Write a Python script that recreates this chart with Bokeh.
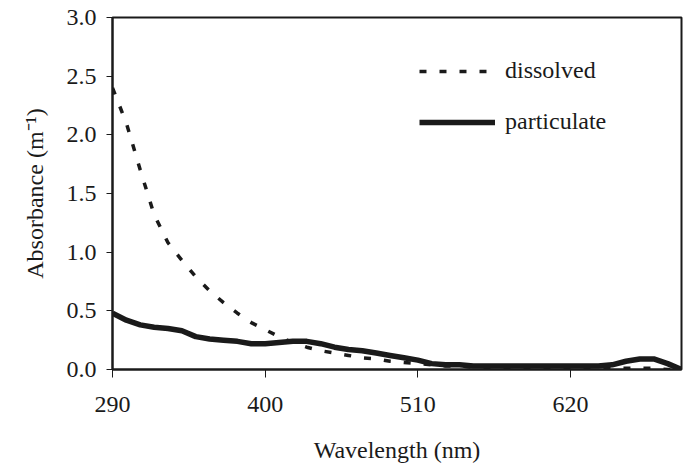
from bokeh.plotting import figure
from bokeh.models import Range1d, FixedTicker, Legend, NumeralTickFormatter
from bokeh.embed import file_html
from bokeh.resources import INLINE

wavelength = [290, 300, 310, 320, 330, 340, 350, 360, 370, 380, 390, 400, 410, 420,
              430, 440, 450, 460, 470, 480, 490, 500, 510, 520, 530, 540, 550, 560,
              570, 580, 590, 600, 610, 620, 630, 640, 650, 660, 670, 680, 690, 700]
dissolved = [2.40, 2.10, 1.70, 1.32, 1.08, 0.93, 0.79, 0.67, 0.57, 0.48, 0.40, 0.34,
             0.28, 0.23, 0.19, 0.16, 0.14, 0.12, 0.10, 0.09, 0.07, 0.06, 0.05, 0.04,
             0.03, 0.03, 0.02, 0.02, 0.02, 0.02, 0.02, 0.02, 0.02, 0.02, 0.02, 0.02,
             0.01, 0.01, 0.01, 0.01, 0.00, 0.00]
particulate = [0.48, 0.42, 0.38, 0.36, 0.35, 0.33, 0.28, 0.26, 0.25, 0.24, 0.22, 0.22,
               0.23, 0.24, 0.24, 0.22, 0.19, 0.17, 0.16, 0.14, 0.12, 0.10, 0.08, 0.05,
               0.04, 0.04, 0.03, 0.03, 0.03, 0.03, 0.03, 0.03, 0.03, 0.03, 0.03, 0.03,
               0.04, 0.07, 0.09, 0.09, 0.05, 0.00]
x_ticks = [290, 400, 510, 620]
y_ticks = [0.0, 0.5, 1.0, 1.5, 2.0, 2.5, 3.0]

FONT = "'Liberation Serif', 'Times New Roman', serif"
INK = "#1a1a1a"

p = figure(width=684, height=465, output_backend="svg", toolbar_location=None,
           x_range=Range1d(290, 700), y_range=Range1d(0, 3),
           min_border_left=112, min_border_right=3, min_border_top=17, min_border_bottom=96)

r1 = p.line(wavelength, dissolved, line_color=INK, line_width=3.5, line_dash="7 13")
r2 = p.line(wavelength, particulate, line_color=INK, line_width=5.5)

p.xgrid.visible = False
p.ygrid.visible = False
p.outline_line_color = INK
p.outline_line_width = 2
p.background_fill_color = "white"
p.border_fill_color = "white"

xa = p.xaxis[0]
xa.ticker = FixedTicker(ticks=x_ticks)
xa.axis_label = "Wavelength (nm)"
xa.minor_tick_line_color = None
xa.major_tick_in = 0
xa.major_tick_out = 8
xa.major_label_standoff = 19
xa.axis_label_standoff = 22

ya = p.yaxis[0]
ya.ticker = FixedTicker(ticks=y_ticks)
ya.formatter = NumeralTickFormatter(format="0.0")
ya.axis_label = "Absorbance (m\u207b\u00b9)"
ya.minor_tick_line_color = None
ya.major_tick_in = 0
ya.major_tick_out = 6
ya.major_label_standoff = 10
ya.axis_label_standoff = 16

for ax in (xa, ya):
    ax.axis_line_color = INK
    ax.axis_line_width = 2
    ax.major_tick_line_color = INK
    ax.major_tick_line_width = 1
    ax.major_label_text_font = FONT
    ax.major_label_text_font_size = "24px"
    ax.major_label_text_color = INK
    ax.axis_label_text_font = FONT
    ax.axis_label_text_font_size = "24px"
    ax.axis_label_text_font_style = "normal"
    ax.axis_label_text_color = INK

legend = Legend(items=[("dissolved", [r1]), ("particulate", [r2])],
                location=(307, 234), orientation="vertical",
                border_line_alpha=0, background_fill_alpha=0,
                glyph_width=76, glyph_height=26, label_height=26,
                spacing=24, padding=0, margin=0, label_standoff=10,
                label_text_font=FONT, label_text_font_size="24px",
                label_text_color=INK)
p.add_layout(legend)

open("out.html", "w").write(file_html(p, INLINE))
